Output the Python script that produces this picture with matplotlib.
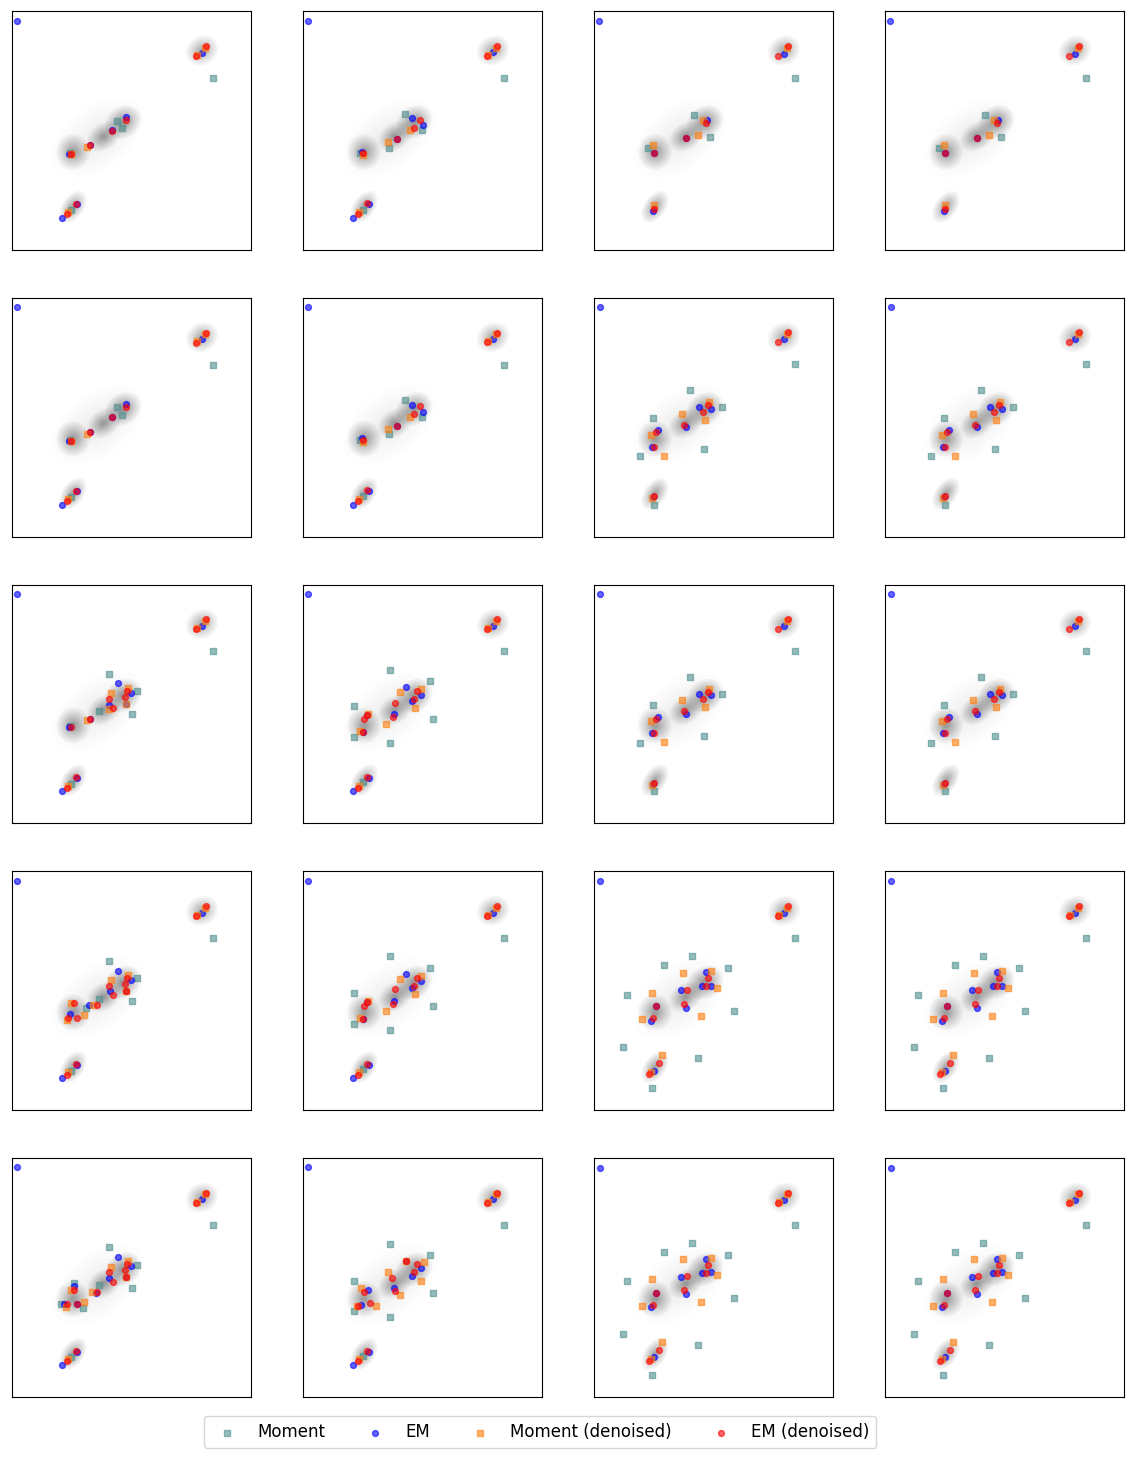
import matplotlib
matplotlib.use('Agg')
from matplotlib import pyplot as plt
from matplotlib.patches import Ellipse

# background clouds (same in every panel): centre, width, height, angle
cloud_x = [79.5, 25.5, 38.5, 46.5, 25.5, 36.0]
cloud_y = [83.5, 41.0, 47.5, 53.5, 18.0, 47.0]
cloud_w = [14.0, 14.0, 15.0, 16.0, 15.0, 44.0]
cloud_h = [12.0, 15.0, 11.0, 13.0, 9.0, 26.0]
cloud_angle = [30, 0, 35, 35, 55, 38]
cloud_alpha = [0.035, 0.04, 0.035, 0.045, 0.04, 0.008]

# variant A1 (panels 1 and 5)
a1_moment = [(84.3, 72.0), (43.9, 54.1), (46.1, 50.9), (24.2, 40.6), (24.5, 16.6)]
a1_em = [(2.2, 96.0), (79.4, 82.6), (47.8, 55.5), (41.8, 50.2), (32.7, 43.8),
         (23.9, 40.2), (27.3, 19.0), (20.9, 13.4)]
a1_moment_dn = [(80.6, 84.7), (77.6, 81.7), (31.2, 43.1), (24.8, 40.0), (23.5, 15.8)]
a1_em_dn = [(81.2, 85.4), (76.9, 81.2), (47.6, 54.4), (41.8, 49.9), (32.7, 43.8),
            (24.5, 40.2), (26.6, 19.2), (23.0, 14.9)]

# variant A2 (panels 2 and 6)
a2_moment = [(84.3, 72.0), (42.8, 57.0), (49.6, 50.0), (36.0, 42.8), (23.7, 40.6),
             (25.0, 16.8)]
a2_em = [(2.2, 96.0), (79.4, 82.7), (45.7, 55.1), (50.1, 52.2), (39.3, 46.3),
         (24.8, 41.1), (27.5, 19.0), (20.9, 13.4)]
a2_moment_dn = [(80.6, 84.7), (77.6, 81.7), (44.6, 50.1), (35.4, 45.0), (25.1, 39.8),
                (23.5, 15.8)]
a2_em_dn = [(81.1, 85.4), (76.9, 81.3), (49.1, 54.5), (46.3, 51.2), (39.3, 46.3),
            (25.1, 40.6), (26.6, 19.4), (23.0, 14.9)]

# variant A3 (panels 3 and 4)
a3_moment = [(84.3, 72.0), (41.8, 56.6), (48.5, 47.1), (22.7, 42.8)]
a3_em = [(2.2, 96.0), (79.5, 82.1), (47.3, 54.3), (38.3, 46.9), (25.2, 40.4),
         (24.8, 16.3)]
a3_moment_dn = [(80.6, 84.7), (45.4, 54.3), (43.6, 48.0), (24.6, 43.7), (24.9, 18.8)]
a3_em_dn = [(81.2, 85.2), (77.0, 81.2), (46.9, 53.3), (38.3, 46.9), (25.2, 40.4),
            (24.9, 17.0)]

# variant B (panels 7, 8, 11, 12)
b_moment = [(84.3, 72.1), (40.1, 61.3), (53.4, 54.2), (24.7, 49.7), (19.2, 33.7),
            (46.2, 36.5), (25.0, 13.4)]
b_em = [(2.4, 96.1), (79.4, 82.7), (43.8, 54.2), (49.1, 53.6), (38.5, 45.8),
        (26.6, 44.6), (24.1, 37.7), (24.8, 16.5)]
b_moment_dn = [(80.6, 84.8), (48.1, 56.3), (36.7, 51.5), (46.3, 48.7), (24.0, 42.7),
               (29.3, 33.9), (24.4, 16.2)]
b_em_dn = [(81.2, 85.5), (77.1, 81.4), (47.8, 55.0), (45.4, 52.0), (37.7, 46.9),
           (26.0, 43.6), (25.0, 37.7), (25.0, 16.9)]

# variant C9 (panel 9)
c9_moment = [(84.3, 72.1), (40.7, 62.6), (52.5, 55.3), (50.3, 45.8), (36.4, 46.9),
             (24.2, 40.9), (24.5, 16.6)]
c9_em = [(2.2, 96.1), (79.4, 82.7), (44.3, 58.7), (40.7, 49.7), (49.7, 54.7),
         (47.6, 50.1), (32.7, 43.9), (23.9, 40.4), (27.3, 19.0), (20.9, 13.4)]
c9_moment_dn = [(80.6, 84.8), (77.6, 81.7), (41.3, 54.5), (40.7, 48.0), (48.5, 56.8),
                (47.6, 50.1), (31.2, 43.2), (23.5, 15.8)]
c9_em_dn = [(81.2, 85.5), (76.9, 81.4), (40.7, 52.2), (42.1, 48.3), (48.1, 55.6),
            (47.3, 53.1), (32.7, 43.9), (24.5, 40.4), (26.6, 19.4), (23.0, 14.9)]

# variant C10 (panels 10 and 14)
c10_moment = [(84.3, 72.1), (36.6, 64.4), (53.3, 59.5), (21.2, 49.0), (54.2, 43.7),
              (21.2, 36.3), (36.6, 33.5), (25.3, 17.3)]
c10_em = [(2.2, 96.1), (79.4, 82.7), (43.3, 57.0), (49.4, 53.9), (45.4, 51.1),
          (38.1, 45.8), (26.7, 45.5), (24.9, 38.1), (27.5, 19.0), (20.9, 13.4)]
c10_moment_dn = [(80.6, 84.8), (77.6, 81.7), (40.4, 55.0), (49.4, 56.3), (47.0, 48.5),
                 (27.1, 45.8), (34.8, 41.5), (23.9, 38.5), (23.5, 15.8)]
c10_em_dn = [(81.1, 85.5), (76.9, 81.4), (47.5, 55.3), (46.6, 52.2), (38.7, 50.6),
             (37.8, 44.6), (26.7, 45.5), (25.7, 43.6), (24.9, 38.1), (26.6, 19.4),
             (23.0, 14.9)]

# variant D (panel 13)
d_moment = [(84.3, 72.1), (40.7, 62.3), (52.5, 55.2), (50.3, 45.7), (36.4, 46.7),
            (30.9, 43.0), (24.5, 16.6)]
d_em = [(2.2, 96.1), (79.4, 82.7), (44.3, 58.4), (40.9, 49.8), (49.7, 54.5),
        (47.6, 50.1), (32.4, 43.9), (24.2, 40.4), (27.3, 19.0), (20.9, 13.4)]
d_moment_dn = [(80.6, 84.8), (77.6, 81.7), (41.3, 54.4), (47.6, 50.1), (48.5, 56.6),
               (34.0, 44.2), (24.6, 45.0), (30.3, 39.9), (23.0, 37.7), (23.5, 15.8)]
d_em_dn = [(81.2, 85.5), (76.9, 81.4), (40.7, 52.0), (42.1, 48.1), (48.1, 55.4),
           (47.3, 52.9), (47.6, 50.1), (35.4, 43.9), (26.0, 45.0), (23.4, 38.8),
           (27.2, 38.8), (26.6, 19.4), (23.0, 14.9)]

# variant E (panels 15, 16, 19, 20)
e_moment = [(84.3, 72.0), (40.8, 64.6), (29.4, 60.7), (56.1, 59.4), (13.6, 48.4),
            (58.4, 41.4), (12.3, 26.4), (43.5, 21.8), (24.1, 9.1)]
e_em = [(2.4, 96.0), (79.4, 82.6), (46.7, 57.7), (45.0, 52.0), (49.1, 52.2),
        (36.5, 50.2), (26.0, 43.7), (38.5, 43.0), (23.7, 37.5), (25.0, 16.6)]
e_moment_dn = [(80.6, 84.8), (77.6, 81.7), (37.3, 57.6), (48.8, 58.2), (51.3, 51.2),
               (24.3, 49.2), (44.8, 39.6), (20.1, 38.1), (28.6, 23.2), (24.0, 16.0)]
e_em_dn = [(81.2, 85.4), (77.1, 81.3), (47.6, 55.2), (46.7, 52.0), (38.9, 50.5),
           (26.0, 43.7), (37.7, 44.6), (24.7, 38.4), (27.4, 19.8), (23.1, 15.1)]

# variant F17 (panel 17)
f17_moment = [(84.3, 72.1), (40.7, 62.6), (52.5, 55.3), (50.3, 45.8), (36.3, 46.9),
              (26.1, 47.6), (20.3, 39.0), (29.7, 37.3), (24.5, 16.6)]
f17_em = [(2.2, 96.1), (79.4, 82.7), (44.3, 58.7), (40.7, 49.7), (49.7, 54.7),
          (47.6, 50.1), (35.1, 43.4), (26.1, 46.5), (21.9, 39.0), (27.2, 39.0),
          (27.3, 19.0), (20.9, 13.4)]
f17_moment_dn = [(80.6, 84.8), (77.6, 81.7), (41.3, 54.5), (48.5, 56.8), (47.6, 50.1),
                 (33.6, 43.9), (24.5, 44.8), (30.3, 39.8), (22.8, 37.7), (23.5, 15.8)]
f17_em_dn = [(81.2, 85.5), (76.9, 81.4), (40.7, 52.2), (42.1, 48.3), (48.1, 55.6),
             (47.3, 53.1), (47.6, 50.1), (35.4, 43.9), (26.0, 44.8), (23.1, 39.0),
             (27.2, 39.0), (26.6, 19.4), (23.0, 14.9)]

# variant F18 (panel 18)
f18_moment = [(84.3, 72.1), (36.6, 64.2), (53.3, 59.4), (21.2, 48.7), (54.2, 43.4),
              (21.2, 36.2), (36.6, 33.4), (25.3, 17.3)]
f18_em = [(2.2, 96.1), (79.4, 82.7), (43.1, 56.8), (49.4, 53.9), (45.5, 50.8),
          (38.1, 45.5), (27.0, 45.0), (24.2, 38.5), (27.5, 19.0), (20.9, 13.4)]
f18_moment_dn = [(80.6, 84.8), (77.6, 81.7), (43.1, 56.8), (50.6, 56.7), (35.7, 52.2),
                 (49.4, 48.6), (24.2, 45.8), (40.6, 42.7), (30.4, 38.0), (22.5, 38.1),
                 (23.5, 15.8)]
f18_em_dn = [(81.1, 85.5), (76.9, 81.4), (43.1, 56.8), (47.9, 55.7), (46.3, 52.2),
             (37.2, 49.7), (38.5, 44.4), (25.5, 44.1), (27.9, 39.4), (23.1, 38.1),
             (26.6, 19.4), (23.0, 14.9)]

variants = {
    'A1': (a1_moment, a1_em, a1_moment_dn, a1_em_dn),
    'A2': (a2_moment, a2_em, a2_moment_dn, a2_em_dn),
    'A3': (a3_moment, a3_em, a3_moment_dn, a3_em_dn),
    'B': (b_moment, b_em, b_moment_dn, b_em_dn),
    'C9': (c9_moment, c9_em, c9_moment_dn, c9_em_dn),
    'C10': (c10_moment, c10_em, c10_moment_dn, c10_em_dn),
    'D': (d_moment, d_em, d_moment_dn, d_em_dn),
    'E': (e_moment, e_em, e_moment_dn, e_em_dn),
    'F17': (f17_moment, f17_em, f17_moment_dn, f17_em_dn),
    'F18': (f18_moment, f18_em, f18_moment_dn, f18_em_dn),
}

panel_layout = [
    ['A1', 'A2', 'A3', 'A3'],
    ['A1', 'A2', 'B', 'B'],
    ['C9', 'C10', 'B', 'B'],
    ['D', 'C10', 'E', 'E'],
    ['F17', 'F18', 'E', 'E'],
]

labels = ['Moment', 'EM', 'Moment (denoised)', 'EM (denoised)']
colors = ['#4f8f8f', 'blue', 'tab:orange', 'red']
markers = ['s', 'o', 's', 'o']
sizes = [14, 18, 14, 18]

fig, axes = plt.subplots(5, 4, figsize=(11.36, 14.59), dpi=100)
fig.subplots_adjust(left=12/1136, right=1124/1136, top=1 - 11/1459,
                    bottom=1 - 1397/1459, wspace=52/239, hspace=48/239)

for r, row in enumerate(panel_layout):
    for c, name in enumerate(row):
        ax = axes[r][c]
        for i in range(len(cloud_x)):
            for k in [1.0, 0.88, 0.76, 0.65, 0.55, 0.46, 0.37, 0.29, 0.21, 0.14]:
                ax.add_patch(Ellipse((cloud_x[i], cloud_y[i]), cloud_w[i] * k,
                                     cloud_h[i] * k, angle=cloud_angle[i],
                                     facecolor='k', edgecolor='none',
                                     alpha=cloud_alpha[i], zorder=1))
        for j, pts in enumerate(variants[name]):
            xs = [p[0] for p in pts]
            ys = [p[1] for p in pts]
            ax.scatter(xs, ys, s=sizes[j], c=colors[j], marker=markers[j],
                       alpha=0.6, label=labels[j], zorder=3 + j)
        ax.set_xlim(0, 100)
        ax.set_ylim(0, 100)
        ax.set_xticks([])
        ax.set_yticks([])

handles, lbls = axes[0][0].get_legend_handles_labels()
fig.legend(handles, lbls, loc='lower center', ncol=4, fontsize=12,
           bbox_to_anchor=(540/1136, 0.002))

plt.savefig('out.png', dpi=100)
